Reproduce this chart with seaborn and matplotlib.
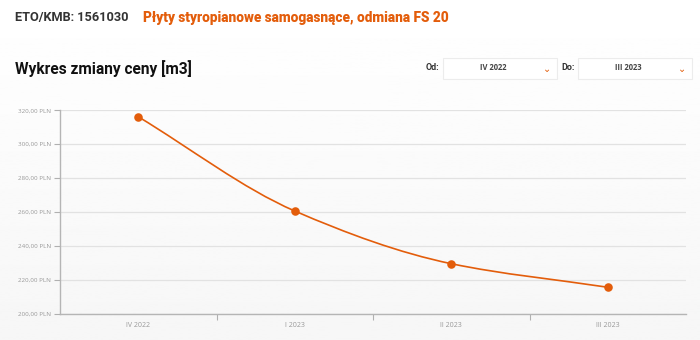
import numpy as np
import pandas as pd
import matplotlib
matplotlib.use("Agg")
import matplotlib.pyplot as plt
from matplotlib.path import Path
from matplotlib.patches import PathPatch, FancyBboxPatch
from matplotlib.ticker import FixedLocator
import seaborn as sns

# ---- data ----
categories = ["IV 2022", "I 2023", "II 2023", "III 2023"]
prices = [316.2, 260.6, 229.5, 215.6]
y_ticks = [200, 220, 240, 260, 280, 300, 320]
y_tick_labels = ["200,00 PLN", "220,00 PLN", "240,00 PLN", "260,00 PLN",
                 "280,00 PLN", "300,00 PLN", "320,00 PLN"]
code_text = "ETO/KMB: 1561030"
title_text = "Płyty styropianowe samogasnące, odmiana FS 20"
subtitle_text = "Wykres zmiany ceny [m3]"
range_from = "IV 2022"
range_to = "III 2023"

ORANGE = "#e35d0b"
df = pd.DataFrame({"okres": categories, "cena": prices})

sns.set_theme(style="white")
plt.rcParams["font.family"] = ["Open Sans", "DejaVu Sans"]

fig = plt.figure(figsize=(7, 3.4), dpi=100)
fig.patch.set_facecolor("#fcfcfc")

# subtle background gradient (white top, light grey bottom)
bg = fig.add_axes([0, 0, 1, 1], zorder=-10)
grad = np.linspace(1.0, 0.965, 256).reshape(-1, 1)
bg.imshow(grad, aspect="auto", cmap="gray", vmin=0, vmax=1, extent=[0, 1, 0, 1])
bg.axis("off")

ax = fig.add_axes([60 / 700, 26.3 / 340, 626 / 700, 203.4 / 340])
ax.set_facecolor("none")

# smooth monotone curve through the data points
xs = np.arange(len(prices), dtype=float)
ys = np.array(prices, dtype=float)
d = np.diff(ys) / np.diff(xs)
m = np.zeros_like(ys)
m[0], m[-1] = d[0], d[-1]
for i in range(1, len(ys) - 1):
    if d[i - 1] * d[i] <= 0:
        m[i] = 0
    else:
        m[i] = 2 / (1 / d[i - 1] + 1 / d[i])
verts = [(xs[0], ys[0])]
codes = [Path.MOVETO]
for i in range(len(xs) - 1):
    h = xs[i + 1] - xs[i]
    verts += [(xs[i] + h / 3, ys[i] + m[i] * h / 3),
              (xs[i + 1] - h / 3, ys[i + 1] - m[i + 1] * h / 3),
              (xs[i + 1], ys[i + 1])]
    codes += [Path.CURVE4] * 3
ax.add_patch(PathPatch(Path(verts, codes), facecolor="none", edgecolor=ORANGE,
                       lw=1.2, zorder=3))

sns.scatterplot(data=df, x="okres", y="cena", ax=ax, color=ORANGE, s=38,
                edgecolor=ORANGE, linewidth=0, zorder=4, legend=False)

ax.set_xlim(-0.5, len(categories) - 0.5)
ax.set_ylim(200, 320)
ax.set_xlabel("")
ax.set_ylabel("")

ax.set_yticks(y_ticks)
ax.set_yticklabels(y_tick_labels)
ax.yaxis.grid(True, color="#e2e2e2", lw=0.9)
ax.xaxis.grid(False)
ax.set_axisbelow(True)

ax.set_xticks(range(len(categories)))
ax.set_xticklabels(categories)
ax.xaxis.set_minor_locator(FixedLocator([0.5, 1.5, 2.5]))
ax.tick_params(axis="x", which="major", length=0, labelsize=5, colors="#999999", pad=6)
ax.tick_params(axis="x", which="minor", bottom=True, length=4, width=0.8, color="#b0b0b0")
ax.tick_params(axis="y", which="major", left=True, length=4, width=0.8, color="#b0b0b0",
               labelsize=4.5, labelcolor="#999999", pad=2.5)

for side in ["top", "right"]:
    ax.spines[side].set_visible(False)
for side in ["left", "bottom"]:
    ax.spines[side].set_color("#b5b5b5")
    ax.spines[side].set_linewidth(1.0)

# ---- header texts ----
HEAD = ["Roboto", "DejaVu Sans"]
fig.text(15 / 700, 1 - 18 / 340, code_text, fontsize=9.2, fontweight="bold",
         color="#333333", va="center", ha="left", family=HEAD)
fig.text(143 / 700, 1 - 18 / 340, title_text, fontsize=9.8, fontweight="heavy",
         color=ORANGE, va="center", ha="left", family=HEAD)
fig.text(15 / 700, 1 - 69 / 340, subtitle_text, fontsize=11.2, fontweight="bold",
         color="#111111", va="center", ha="left", family=HEAD)

# dropdowns
def dropdown(label, x_label, x0, x1, value):
    fig.text(x_label / 700, 1 - 68 / 340, label, fontsize=6.5, fontweight="bold",
             color="#333333", va="center", ha="left", family=HEAD)
    box = FancyBboxPatch((x0 / 700, 1 - 79 / 340), (x1 - x0) / 700, 21 / 340,
                         boxstyle="square,pad=0", transform=fig.transFigure,
                         facecolor="white", edgecolor="#ececec", lw=0.8, zorder=5)
    fig.add_artist(box)
    fig.text((x0 + x1 - 14) / 2 / 700, 1 - 67.5 / 340, value, fontsize=5.5,
             fontweight="bold", color="#444444", va="center", ha="center", zorder=6)
    fig.text((x1 - 10) / 700, 1 - 69 / 340, "\u2304", fontsize=7,
             color=ORANGE, va="center", ha="center", zorder=6,
             family=["DejaVu Sans"])

dropdown("Od:", 426, 443, 557, range_from)
dropdown("Do:", 561, 578, 692, range_to)

fig.savefig("out.png", dpi=100, facecolor=fig.get_facecolor())
